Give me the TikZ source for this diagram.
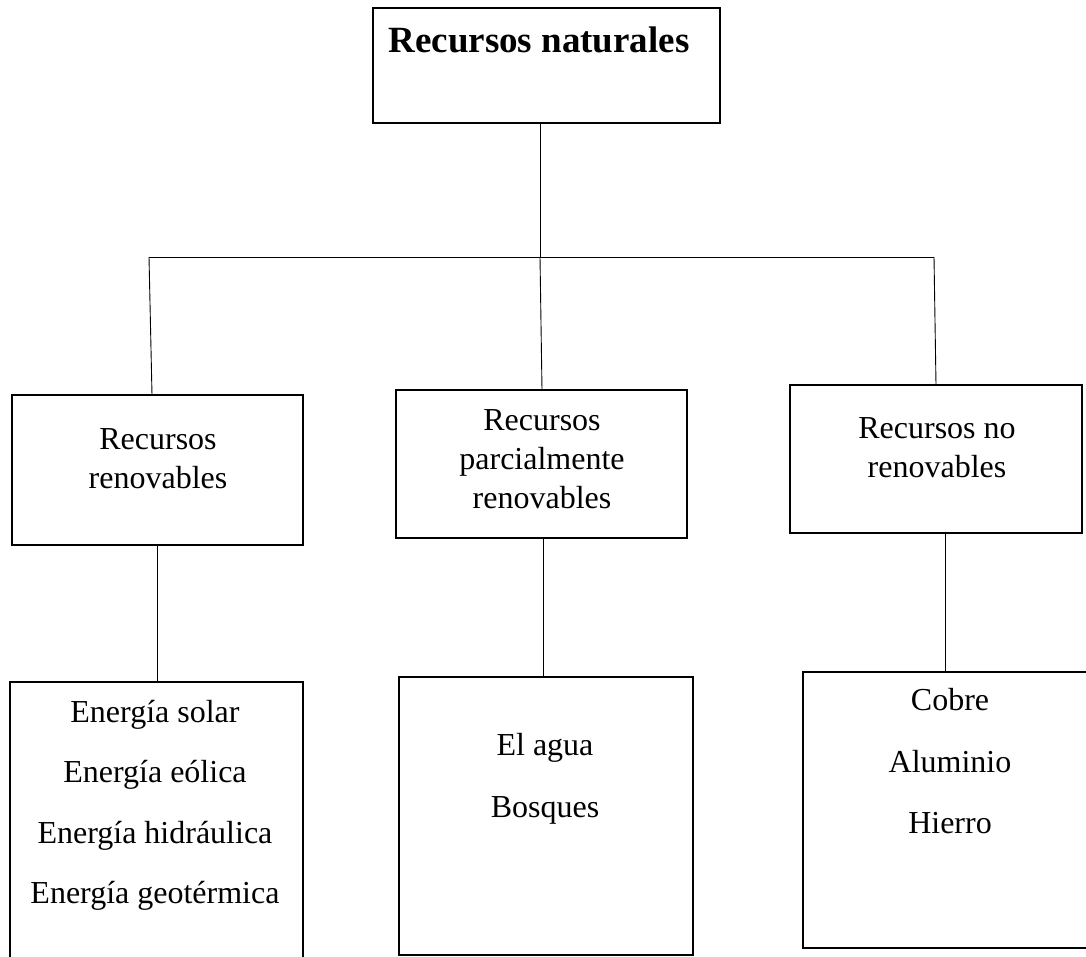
\documentclass[tikz,border=0pt]{standalone}
\usepackage{fontspec}
\setmainfont{Liberation Serif}
\begin{document}
\begin{tikzpicture}[x=1pt,y=-1pt,
  box/.style={draw, line width=1.6pt, inner sep=0pt, outer sep=0pt},
  txt/.style={anchor=base, inner sep=0pt, font=\fontsize{32}{38}\selectfont},
  headtxt/.style={anchor=base, inner sep=0pt, font=\fontsize{37}{44}\selectfont\bfseries},
  link/.style={line width=0.9pt}]
\useasboundingbox (0,0) rectangle (1086,957);

% frames
\node[box, minimum width=347pt, minimum height=115pt] (t)  at (546.5,65.5) {};
\node[box, minimum width=291pt, minimum height=150pt] (r1) at (157.5,470) {};
\node[box, minimum width=291pt, minimum height=148pt] (r2) at (541.5,464) {};
\node[box, minimum width=292pt, minimum height=148pt] (r3) at (936,459) {};
\node[box, minimum width=293pt, minimum height=318pt] (b1) at (156.5,841) {};
\node[box, minimum width=294pt, minimum height=278pt] (b2) at (546,816) {};
\node[box, minimum width=317pt, minimum height=276pt] (b3) at (961.5,810) {};

% labels
\node[headtxt] (tt) at (539,53) {Recursos naturales};

\node[txt] (r1a) at (158,449) {Recursos};
\node[txt] (r1b) at (158,488) {renovables};

\node[txt] (r2a) at (542,430) {Recursos};
\node[txt] (r2b) at (542,469) {parcialmente};
\node[txt] (r2c) at (542,508) {renovables};

\node[txt] (r3a) at (937,438) {Recursos no};
\node[txt] (r3b) at (937,477) {renovables};

\node[txt] (b1a) at (155,722) {Energía solar};
\node[txt] (b1b) at (155,782) {Energía eólica};
\node[txt] (b1c) at (155,843) {Energía hidráulica};
\node[txt] (b1d) at (155,903) {Energía geotérmica};

\node[txt] (b2a) at (545,755) {El agua};
\node[txt] (b2b) at (545,817) {Bosques};

\node[txt] (b3a) at (950,710) {Cobre};
\node[txt] (b3b) at (950,772) {Aluminio};
\node[txt] (b3c) at (950,833) {Hierro};

% branching connectors
\coordinate (jL) at (149,257);
\coordinate (jM) at (540,257);
\coordinate (jR) at (934,257);
\draw[link] (jM |- t.south) -- (jM);
\draw[link] (jL) -- (jR);
\draw[link] (jL) -- ([xshift=3pt]jL |- r1.north);
\draw[link] (jM) -- ([xshift=2pt]jM |- r2.north);
\draw[link] (jR) -- ([xshift=2pt]jR |- r3.north);

\draw[link] (r1.south) -- (r1.south |- b1.north);
\draw[link] ([xshift=1.5pt]r2.south) -- ([xshift=1.5pt]r2.south |- b2.north);
\draw[link] ([xshift=9pt]r3.south) -- ([xshift=9pt]r3.south |- b3.north);
\end{tikzpicture}
\end{document}
